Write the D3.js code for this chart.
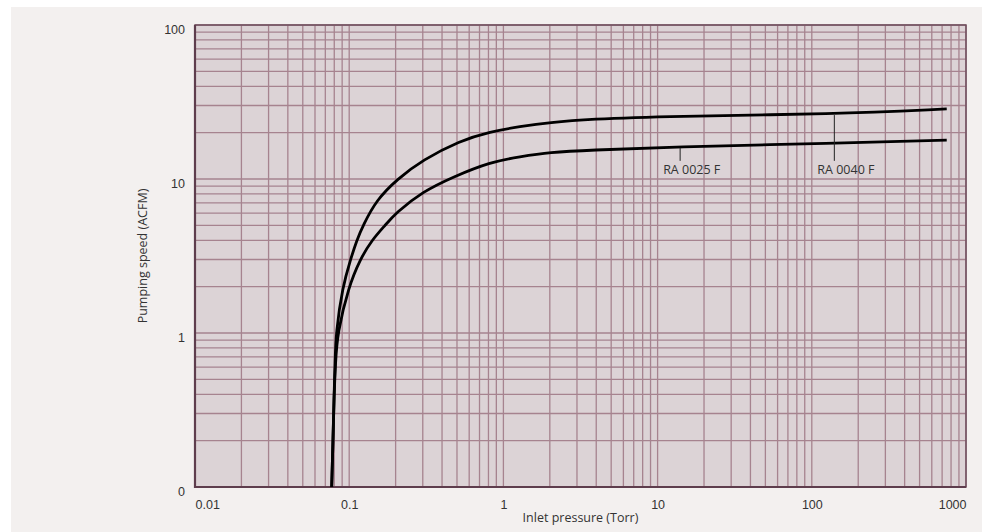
<!DOCTYPE html>
<html>
<head>
<meta charset="utf-8">
<script src="https://cdn.jsdelivr.net/npm/d3@7"></script>
<style>
  html, body { margin: 0; padding: 0; background: #fff; }
  svg { display: block; }
</style>
</head>
<body>
<div id="chart"></div>
<script>
// pump curves (Torr -> ACFM)
const pressure40 = [0.077, 0.0785, 0.0798, 0.081, 0.082, 0.0906, 0.102, 0.112, 0.123, 0.15, 0.205, 0.3, 0.52, 0.82, 1.28, 2.0, 3.6, 12, 140, 750];
const speed40    = [0.1,   0.2,    0.4,    0.64,  1.0,   2.0,    3.0,   4.0,   5.0,   7.3,  10,    13.3, 17.7, 20.3, 21.9, 23.3, 24.5, 25.6, 26.4, 28.5];
const pressure25 = [0.077, 0.0785, 0.0798, 0.0815, 0.0838, 0.0992, 0.1175, 0.14, 0.171, 0.2, 0.3, 0.47, 0.82, 1.28, 2.0, 3.6, 12, 140, 750];
const speed25    = [0.1,   0.2,    0.4,    0.64,   1.0,    2.0,    3.0,    4.0,  5.0,   6.0, 8.3, 10.3, 12.9, 13.95, 14.9, 15.4, 16.1, 17.1, 17.9];

const xTicks = [0.01, 0.1, 1, 10, 100, 1000];
const xTickLabels = ["0.01", "0.1", "1", "10", "100", "1000"];
const yTicks = [0.1, 1, 10, 100];
const yTickLabels = ["0", "1", "10", "100"];

const seriesNames = ["RA 0025 F", "RA 0040 F"];
const labelAt = [14, 140]; // pressure where the leader line sits

const width = 987, height = 532;
const margin = { top: 25, right: 21, bottom: 45, left: 195 };

const svg = d3.select("#chart").append("svg")
  .attr("width", width)
  .attr("height", height);

// grey panel behind everything
svg.append("rect")
  .attr("x", 11).attr("y", 7)
  .attr("width", 971).attr("height", height - 7)
  .attr("fill", "#f3f0ef");

const x = d3.scaleLog().domain([0.01, 1000]).range([margin.left, width - margin.right]);
const y = d3.scaleLog().domain([0.1, 100]).range([height - margin.bottom, margin.top]);

const [x0, x1] = x.range();
const [y0, y1] = y.range();

svg.append("rect")
  .attr("x", x0).attr("y", y1)
  .attr("width", x1 - x0).attr("height", y0 - y1)
  .attr("fill", "#dcd3d6");

// ========= GRID =========
const grid = svg.append("g").attr("stroke", "#a6838f").attr("stroke-width", 1.3);

grid.selectAll("line.v")
  .data(x.ticks())
  .enter().append("line")
  .attr("x1", d => x(d)).attr("x2", d => x(d))
  .attr("y1", y1).attr("y2", y0);

grid.selectAll("line.h")
  .data(y.ticks())
  .enter().append("line")
  .attr("y1", d => y(d)).attr("y2", d => y(d))
  .attr("x1", x0).attr("x2", x1);

// frame
svg.append("rect")
  .attr("x", x0).attr("y", y1)
  .attr("width", x1 - x0).attr("height", y0 - y1)
  .attr("fill", "none")
  .attr("stroke", "#6e4d5c")
  .attr("stroke-width", 1.5);

svg.append("path")
  .attr("d", `M${x0},${y1}V${y0}H${x1}`)
  .attr("fill", "none")
  .attr("stroke", "#5e3d4d")
  .attr("stroke-width", 2.2);

// ========= AXES =========
const xAxis = d3.axisBottom(x)
  .tickValues(xTicks)
  .tickSize(0)
  .tickPadding(13)
  .tickFormat((d, i) => xTickLabels[i]);

const gx = svg.append("g")
  .attr("transform", `translate(0,${y0})`)
  .call(xAxis);
gx.select(".domain").remove();
gx.selectAll("text")
  .style("font-family", "'Liberation Sans', Arial, sans-serif")
  .style("font-size", "12.5px")
  .attr("fill", "#333")
  .attr("text-anchor", (d, i) => i === 0 ? "start" : (i === xTicks.length - 1 ? "end" : "middle"));

const yAxis = d3.axisLeft(y)
  .tickValues(yTicks)
  .tickSize(0)
  .tickPadding(10)
  .tickFormat((d, i) => yTickLabels[i]);

const gy = svg.append("g")
  .attr("transform", `translate(${x0},0)`)
  .call(yAxis);
gy.select(".domain").remove();
gy.selectAll("text")
  .style("font-family", "'Liberation Sans', Arial, sans-serif")
  .style("font-size", "12.5px")
  .attr("fill", "#333")
  .attr("dy", "0.7em");

svg.append("text")
  .attr("x", (x0 + x1) / 2)
  .attr("y", 522)
  .attr("text-anchor", "middle")
  .style("font-family", "'Open Sans', 'Noto Sans', sans-serif")
  .style("font-size", "12.5px")
  .attr("fill", "#333")
  .text("Inlet pressure (Torr)");

svg.append("text")
  .attr("transform", `translate(147,${(y0 + y1) / 2}) rotate(-90)`)
  .attr("text-anchor", "middle")
  .style("font-family", "'Open Sans', 'Noto Sans', sans-serif")
  .style("font-size", "12.5px")
  .attr("fill", "#333")
  .text("Pumping speed (ACFM)");

// ========= CURVES =========
const series = [
  { name: seriesNames[0], values: pressure25.map((p, i) => [p, speed25[i]]) },
  { name: seriesNames[1], values: pressure40.map((p, i) => [p, speed40[i]]) }
];

const line = d3.line()
  .x(d => x(d[0]))
  .y(d => y(d[1]))
  .curve(d3.curveBasis);

svg.append("g").selectAll("path")
  .data(series)
  .enter().append("path")
  .attr("d", d => line(d.values))
  .attr("fill", "none")
  .attr("stroke", "#000")
  .attr("stroke-width", 2.8)
  .attr("stroke-linejoin", "round");

// leader lines + labels
const labelBase = y(10.8);
series.forEach((s, i) => {
  const px = labelAt[i];
  const pressures = s.values.map(d => d[0]);
  const j = d3.bisectLeft(pressures, px);
  const a = s.values[j - 1], b = s.values[j];
  const t = (Math.log(px) - Math.log(a[0])) / (Math.log(b[0]) - Math.log(a[0]));
  const sv = Math.exp(Math.log(a[1]) + t * (Math.log(b[1]) - Math.log(a[1])));

  svg.append("line")
    .attr("x1", x(px)).attr("x2", x(px))
    .attr("y1", y(sv) + 1).attr("y2", labelBase - 13)
    .attr("stroke", "#222")
    .attr("stroke-width", 1);

  svg.append("text")
    .attr("x", x(px) - 17)
    .attr("y", labelBase)
    .style("font-family", "'Open Sans', 'Noto Sans', sans-serif")
    .style("font-size", "12.5px")
    .attr("fill", "#333")
    .text(s.name);
});
</script>
</body>
</html>
